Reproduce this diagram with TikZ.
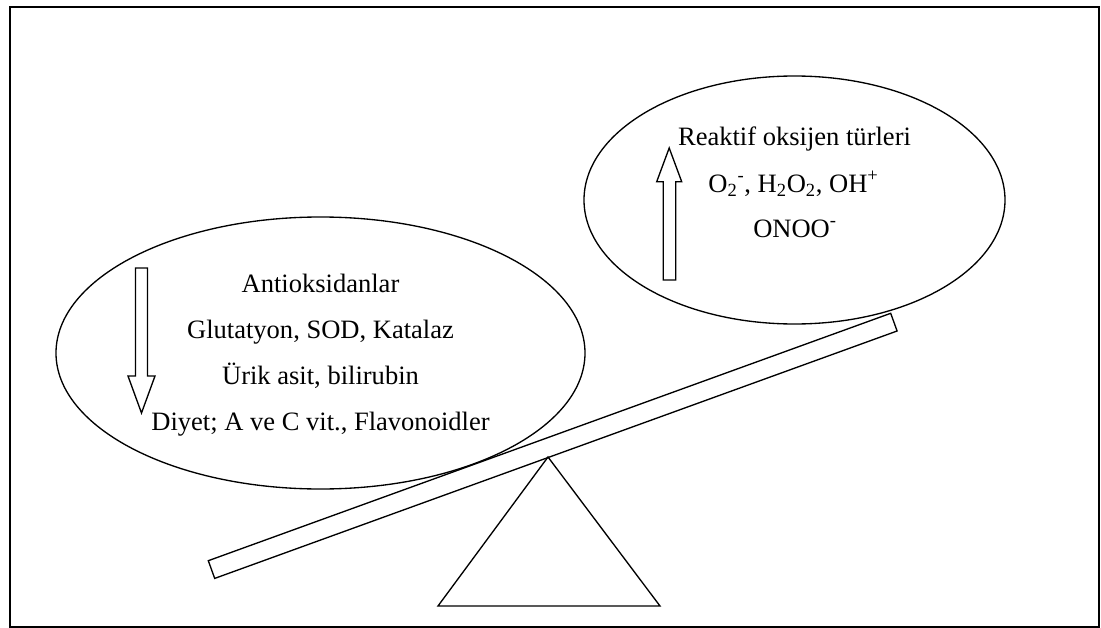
\documentclass[tikz,border=0pt]{standalone}
\usepackage{fontspec}
\setmainfont{Liberation Serif}
\usetikzlibrary{shapes.geometric}
\begin{document}
\begin{tikzpicture}[x=0.75pt,y=-0.75pt,line width=1pt,line join=miter,
  txt/.style={font=\fontsize{19.9}{24}\selectfont,anchor=base,inner sep=0pt},
  oval/.style={draw,ellipse,inner sep=0pt},
  blockarrow/.style={draw,line width=1pt},
  frame/.style={draw,line width=1.5pt}]
\useasboundingbox (0,0) rectangle (1101,628);
\draw[frame] (9.5,6.5) rectangle (1098.5,626.5);
% ellipses
\node[oval,minimum width=396.75pt,minimum height=204pt] (anti) at (320.5,353) {};
\node[oval,minimum width=315.75pt,minimum height=186pt] (ros) at (794.5,200) {};
% plank
\coordinate (pl1) at (208.3,560.7);
\coordinate (pl2) at (890.7,313.3);
\coordinate (pl3) at (897.1,331.0);
\coordinate (pl4) at (214.7,578.4);
\draw (pl1) -- (pl2) -- (pl3) -- (pl4) -- cycle;
% fulcrum
\coordinate (apex) at (548,457);
\coordinate (bl) at (438,606);
\coordinate (br) at (660,606);
\draw (apex) -- (bl) -- (br) -- cycle;
% arrows
\draw[blockarrow] (663.3,280) -- (663.3,181.7) -- (656.7,181.7) -- (669.2,148) -- (681.7,181.7) -- (675.7,181.7) -- (675.7,280) -- cycle;
\draw[blockarrow] (135.5,268) -- (135.5,376) -- (128,376) -- (141.5,413) -- (155,376) -- (147.5,376) -- (147.5,268) -- cycle;
% texts left
\node[txt] (a1) at (320.5,292) {Antioksidanlar};
\node[txt] (a2) at (320.5,338) {Glutatyon, SOD, Katalaz};
\node[txt] (a3) at (320.5,384) {Ürik asit, bilirubin};
\node[txt] (a4) at (320.5,430) {Diyet; A ve C vit., Flavonoidler};
% texts right
\node[txt] (r1) at (794.5,145) {Reaktif oksijen türleri};
\node[txt] (r2) at (793.5,192) {O\textsubscript{2}\textsuperscript{-}, H\textsubscript{2}O\textsubscript{2}, OH\textsuperscript{+}};
\node[txt] (r3) at (795,237) {ONOO\textsuperscript{-}};
\end{tikzpicture}
\end{document}
